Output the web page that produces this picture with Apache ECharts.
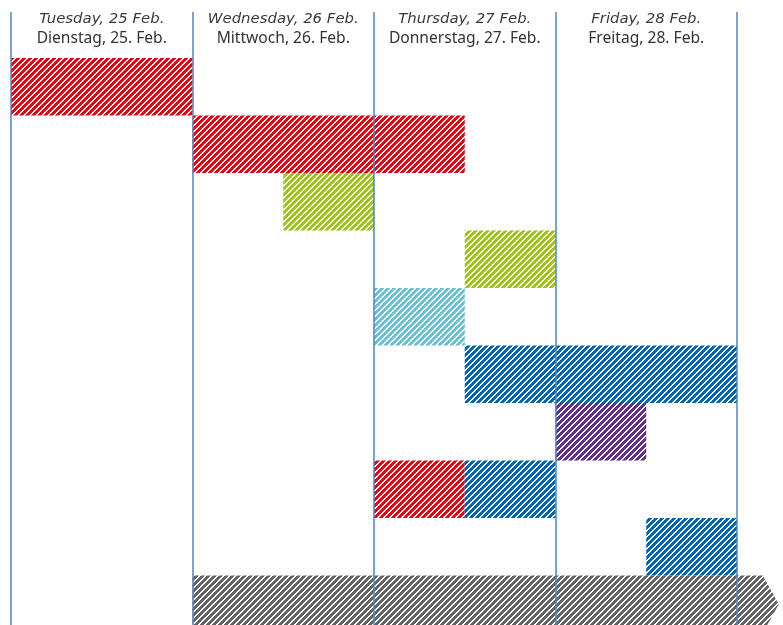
<!DOCTYPE html>
<html>
<head>
<meta charset="utf-8">
<script src="https://cdn.jsdelivr.net/npm/echarts@6/dist/echarts.min.js"></script>
<style>
html,body{margin:0;padding:0;background:#fff;}
#chart{width:783px;height:625px;}
</style>
</head>
<body>
<div id="chart"></div>
<script>
// ---- data ----
const headerEn = ['Tuesday, 25 Feb.', 'Wednesday, 26 Feb.', 'Thursday, 27 Feb.', 'Friday, 28 Feb.'];
const headerDe = ['Dienstag, 25. Feb.', 'Mittwoch, 26. Feb.', 'Donnerstag, 27. Feb.', 'Freitag, 28. Feb.'];
const rowCount = 10;
// bars: start / end measured in days from Tuesday 00:00
const barRow   = [0, 1, 2,   3,   4, 5,   6, 7, 7,   8,   9];
const barStart = [0, 1, 1.5, 2.5, 2, 2.5, 3, 2, 2.5, 3.5, 1];
const barEnd   = [1, 2.5, 2, 3,   2.5, 4, 3.5, 2.5, 3, 4, 4.23];
const barKind  = ['red', 'red', 'green', 'green', 'lightblue', 'blue', 'purple', 'red', 'blue', 'blue', 'gray'];
const barArrow = [0, 0, 0, 0, 0, 0, 0, 0, 0, 0, 1];

const palette = {
  red: '#e30613', green: '#a0c31a', lightblue: '#6cc0d3',
  blue: '#0066b1', purple: '#652c88', gray: '#646464'
};

function makePattern(color) {
  const c = document.createElement('canvas');
  c.width = 6; c.height = 6;
  const ctx = c.getContext('2d');
  for (let x = 0; x < 6; x++) {
    for (let y = 0; y < 6; y++) {
      const k = (x + y) % 6;
      ctx.fillStyle = (k === 0 || k === 1) ? '#ffffff' : color;
      ctx.fillRect(x, y, 1, 1);
    }
  }
  return {image: c, repeat: 'repeat'};
}
const patterns = {};
Object.keys(palette).forEach(k => patterns[k] = makePattern(palette[k]));

const seriesData = barRow.map((r, i) => [r, barStart[i], barEnd[i], i]);

const DAY = 181.5;
const ROW = 57.5;
const GRID_TOP = 58;
const visibleRows = (625 - GRID_TOP) / ROW;
const chart = echarts.init(document.getElementById('chart'), null, {renderer: 'canvas'});
chart.setOption({
  animation: false,
  backgroundColor: '#ffffff',
  grid: [
    {left: 11, top: GRID_TOP, width: DAY * 4.25, bottom: 0},
    {left: 11, top: 12, width: DAY * 4, bottom: 0}
  ],
  xAxis: [
    {type: 'value', gridIndex: 0, min: 0, max: 4.25, show: false},
    {
      type: 'category', gridIndex: 1, position: 'top', data: headerEn, z: 10,
      boundaryGap: true,
      axisLine: {show: false}, axisTick: {show: false},
      axisLabel: {
        inside: true, margin: -3, interval: 0, verticalAlign: 'top',
        formatter: (v, i) => '{en|' + headerEn[i] + '}\n{de|' + headerDe[i] + '}',
        rich: {
          en: {fontFamily: 'DejaVu Sans', fontStyle: 'italic', fontSize: 14.9, color: '#3a3a3a', lineHeight: 20, align: 'center'},
          de: {fontFamily: 'Noto Sans', fontSize: 15.6, color: '#333333', lineHeight: 20, align: 'center'}
        }
      },
      splitLine: {show: true, interval: 0, lineStyle: {color: '#4a86c2', width: 1.5}}
    }
  ],
  yAxis: [
    {type: 'value', gridIndex: 0, min: 0, max: visibleRows, inverse: true, show: false},
    {type: 'value', gridIndex: 1, show: false}
  ],
  series: [{
    type: 'custom',
    xAxisIndex: 0, yAxisIndex: 0,
    encode: {x: [1, 2], y: 0},
    data: seriesData,
    renderItem: function (params, api) {
      const idx = api.value(3);
      const p0 = api.coord([api.value(1), api.value(0)]);
      const p1 = api.coord([api.value(2), api.value(0) + 1]);
      const x0 = p0[0], x1 = p1[0], y = p0[1], h = p1[1] - p0[1];
      const fill = patterns[barKind[idx]];
      if (barArrow[idx]) {
        const head = 16;
        return {
          type: 'polygon',
          shape: {points: [[x0, y], [x1 - head, y], [x1, y + h / 2], [x1 - head, y + h], [x0, y + h]]},
          style: {fill: fill}
        };
      }
      return {
        type: 'rect',
        shape: {x: x0, y: y, width: x1 - x0, height: h},
        style: {fill: fill}
      };
    }
  }]
});
</script>
</body>
</html>
